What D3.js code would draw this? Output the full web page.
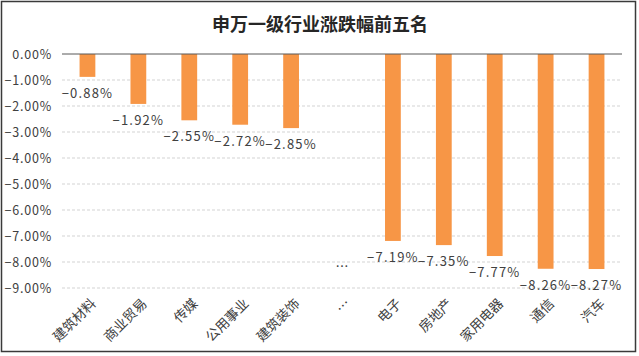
<!DOCTYPE html>
<html><head><meta charset="utf-8">
<script src="https://cdn.jsdelivr.net/npm/d3@7"></script>
<style>
body{margin:0;background:#fff;}
svg{display:block;font-family:"Noto Sans CJK SC","Noto Sans",sans-serif;}
</style></head>
<body><svg id="c" width="639" height="356"></svg>
<script>
const title = "申万一级行业涨跌幅前五名";
const categories = ["建筑材料","商业贸易","传媒","公用事业","建筑装饰","…","电子","房地产","家用电器","通信","汽车"];
const values = [-0.88,-1.92,-2.55,-2.72,-2.85,null,-7.19,-7.35,-7.77,-8.26,-8.27];
const tickValues = [0,-1,-2,-3,-4,-5,-6,-7,-8,-9];
const ellipsisLabelLevel = -8.2;

const svg = d3.select("#c");
const W = 639, H = 356;
const m = {l:62, r:17, t:54, b:68};

svg.append("rect").attr("x",1.5).attr("y",1.5).attr("width",634).attr("height",350)
  .attr("fill","#fff").attr("stroke","#3a3a3a").attr("stroke-width",1.5);

svg.append("text").attr("x",320).attr("y",31).attr("text-anchor","middle")
  .attr("font-size",18).attr("font-weight","bold").attr("fill","#262626").text(title);

const x = d3.scaleBand().domain(categories).range([m.l, W - m.r]).paddingInner(0.69).paddingOuter(0.345);
const y = d3.scaleLinear().domain([-9,0]).range([288,54]);

// gridlines
svg.append("g").selectAll("line").data(tickValues.filter(d=>d!==0)).join("line")
  .attr("x1",m.l).attr("x2",W-m.r).attr("y1",d=>y(d)).attr("y2",d=>y(d))
  .attr("stroke","#c8c8c8").attr("stroke-dasharray","3,2").attr("stroke-width",0.8);

// y axis labels
const yAxis = d3.axisLeft(y).tickValues(tickValues).tickSize(0).tickPadding(10)
  .tickFormat(d=>d3.format(".2f")(d)+"%");
const ga = svg.append("g").attr("transform",`translate(${m.l},0)`).call(yAxis);
ga.select(".domain").remove();
ga.selectAll("text").attr("font-size",12.5).attr("fill","#404040")
  .attr("letter-spacing",0.8).attr("font-family","'Noto Sans CJK SC',sans-serif");

// bars
const data = categories.map((c,i)=>({c, v: values[i]}));
svg.append("g").selectAll("rect").data(data.filter(d=>d.v!==null)).join("rect")
  .attr("x",d=>x(d.c)).attr("width",x.bandwidth())
  .attr("y",y(0)).attr("height",d=>y(d.v)-y(0))
  .attr("fill","#F79646");

// zero line
svg.append("line").attr("x1",m.l).attr("x2",W-m.r).attr("y1",y(0)).attr("y2",y(0))
  .attr("stroke","#595959").attr("stroke-width",1);

// data labels
svg.append("g").selectAll("text").data(data).join("text")
  .attr("x",d=>x(d.c)+x.bandwidth()/2)
  .attr("y",d=>d.v===null ? y(ellipsisLabelLevel)+4 : y(d.v)+21)
  .attr("text-anchor","middle").attr("font-size",13).attr("fill","#404040")
  .attr("letter-spacing",d=>d.v===null?0:1.2)
  .text(d=>d.v===null ? "…" : d3.format(".2f")(d.v)+"%");

// x labels
svg.append("g").selectAll("text").data(categories).join("text")
  .attr("transform",d=>`translate(${x(d)+x.bandwidth()/2+6},${301}) rotate(-45)`)
  .attr("text-anchor","end").attr("dy","0.35em").attr("font-size",13.5).attr("fill","#404040")
  .text(d=>d);
</script></body></html>
